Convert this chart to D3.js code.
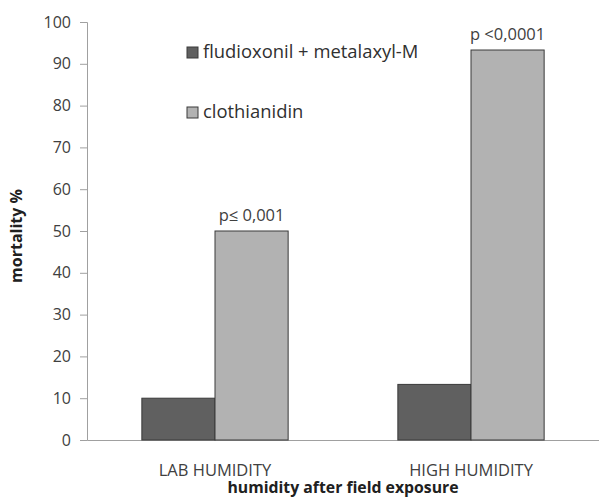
<!DOCTYPE html>
<html>
<head>
<meta charset="utf-8">
<script src="https://cdn.jsdelivr.net/npm/d3@7"></script>
<style>
body { margin: 0; background: #fff; }
text { font-family: "Open Sans", Lato, sans-serif; }
</style>
</head>
<body>
<script>
// values
var groups = ["LAB HUMIDITY", "HIGH HUMIDITY"];
var series = ["fludioxonil + metalaxyl-M", "clothianidin"];
var fungicide = [10, 13.3];
var clothianidin = [50, 93.3];
var pLabels = ["p\u2264 0,001", "p <0,0001"];
var yTicks = [0, 10, 20, 30, 40, 50, 60, 70, 80, 90, 100];

var colors = ["#606060", "#b2b2b2"];
var width = 599, height = 499;
var margin = {top: 22, right: 0, bottom: 59, left: 87};

var svg = d3.select("body").append("svg")
	.attr("width", width)
	.attr("height", height);

var x0 = d3.scaleBand()
	.domain(groups)
	.range([margin.left, width - margin.right])
	.padding(0);

var x1 = d3.scaleBand()
	.domain(series)
	.range([0, x0.bandwidth()])
	.paddingInner(0)
	.paddingOuter(0.75);

var y = d3.scaleLinear()
	.domain([0, 100])
	.range([height - margin.bottom, margin.top]);

// y axis
var yAxis = svg.append("g")
	.attr("transform", "translate(" + margin.left + ",0)")
	.call(d3.axisLeft(y).tickValues(yTicks).tickSize(7).tickPadding(9));
yAxis.selectAll("path, line").attr("stroke", "#a0a0a0");
yAxis.selectAll("text")
	.attr("fill", "#404040")
	.style("font-size", "16px");

// x axis line
var xAxis = svg.append("g")
	.attr("transform", "translate(0," + y(0) + ")")
	.call(d3.axisBottom(x0).tickSize(0).tickPadding(24));
xAxis.select("path").attr("stroke", "#a0a0a0");
xAxis.selectAll("text")
	.attr("fill", "#404040")
	.style("font-size", "16.5px");

// bars
var rows = groups.map(function(g, i) {
	return {group: g, values: [fungicide[i], clothianidin[i]], p: pLabels[i]};
});

var grp = svg.selectAll(".grp")
	.data(rows)
	.enter().append("g")
	.attr("class", "grp")
	.attr("transform", function(d) { return "translate(" + x0(d.group) + ",0)"; });

grp.selectAll("rect")
	.data(function(d) { return d.values.map(function(v, j) { return {s: series[j], v: v, j: j}; }); })
	.enter().append("rect")
	.attr("x", function(d) { return x1(d.s); })
	.attr("y", function(d) { return y(d.v); })
	.attr("width", x1.bandwidth())
	.attr("height", function(d) { return y(0) - y(d.v); })
	.attr("fill", function(d) { return colors[d.j]; })
	.attr("stroke", "#3a3a3a")
	.attr("stroke-width", 1);

// p value labels above clothianidin bars
grp.append("text")
	.attr("x", x1(series[1]) + x1.bandwidth() / 2)
	.attr("y", function(d) { return y(d.values[1]) - 10; })
	.attr("text-anchor", "middle")
	.attr("fill", "#404040")
	.style("font-size", "16.5px")
	.text(function(d) { return d.p; });

// legend
var legend = svg.selectAll(".legend")
	.data(series)
	.enter().append("g")
	.attr("class", "legend")
	.attr("transform", function(d, i) { return "translate(187," + (47 + i * 60) + ")"; });

legend.append("rect")
	.attr("width", 11)
	.attr("height", 11)
	.attr("fill", function(d, i) { return colors[i]; })
	.attr("stroke", "#3a3a3a");

legend.append("text")
	.attr("x", 16)
	.attr("y", 11)
	.attr("fill", "#303030")
	.style("font-size", "18.4px")
	.text(function(d) { return d; });

// axis titles
svg.append("text")
	.attr("transform", "translate(22," + 236 + ") rotate(-90)")
	.attr("text-anchor", "middle")
	.attr("fill", "#202020")
	.style("font-size", "16px")
	.style("font-weight", "bold")
	.text("mortality %");

svg.append("text")
	.attr("x", 343)
	.attr("y", 493)
	.attr("text-anchor", "middle")
	.attr("fill", "#202020")
	.style("font-size", "15.8px")
	.style("font-weight", "bold")
	.text("humidity after field exposure");
</script>
</body>
</html>
